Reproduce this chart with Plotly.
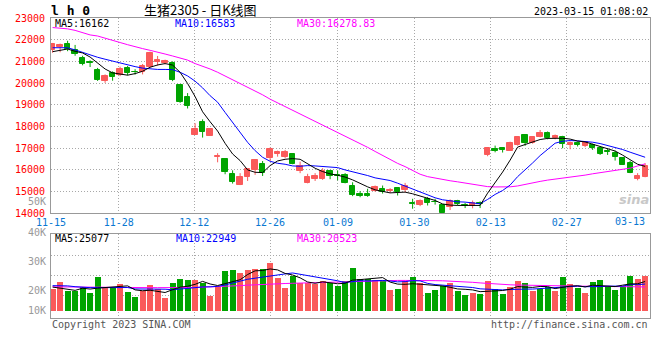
import plotly.graph_objects as go

# ---------------- data ----------------
dates = ["11-15", "11-16", "11-17", "11-18", "11-21", "11-22", "11-23", "11-24", "11-25",
         "11-28", "11-29", "11-30", "12-01", "12-02", "12-05", "12-06", "12-07", "12-08", "12-09",
         "12-12", "12-13", "12-14", "12-15", "12-16", "12-19", "12-20", "12-21", "12-22", "12-23",
         "12-26", "12-27", "12-28", "12-29", "12-30", "01-03", "01-04", "01-05", "01-06",
         "01-09", "01-10", "01-11", "01-12", "01-13", "01-16", "01-17", "01-18", "01-19", "01-20",
         "01-30", "01-31", "02-01", "02-02", "02-03", "02-06", "02-07", "02-08", "02-09", "02-10",
         "02-13", "02-14", "02-15", "02-16", "02-17", "02-20", "02-21", "02-22", "02-23", "02-24",
         "02-27", "02-28", "03-01", "03-02", "03-03", "03-06", "03-07", "03-08", "03-09", "03-10",
         "03-13", "03-14"]

open_ = [21540, 21660, 21800, 21530, 21150, 20950, 20600, 20080, 20460, 20390,
         20690, 20510, 20490, 20760, 20970, 20920, 20930, 19920, 19350, 17630,
         18220, 17580, 16590, 16500, 15810, 15310, 15690, 16000, 16270, 16570,
         16750, 16610, 16720, 15950, 15390, 15570, 15570, 15950, 15760, 15770,
         15250, 14870, 14880, 15040, 15140, 15040, 15170, 15080, 14460, 14380,
         14640, 14520, 14380, 14300, 14580, 14370, 14330, 14460, 16670, 16980,
         16990, 16890, 17170, 17610, 17250, 17510, 17720, 17460, 17520, 17140,
         17230, 17110, 17150, 17030, 16860, 16770, 16540, 16310, 15590, 15670]
high = [21850, 21820, 21950, 21760, 21260, 21050, 20700, 20400, 20540, 20760,
        20790, 20640, 20880, 21450, 21250, 21080, 21000, 19960, 19540, 18150,
        18330, 17900, 16770, 16540, 15980, 15850, 16080, 16490, 16410, 17030,
        16890, 16920, 16770, 16380, 15820, 15850, 16080, 16000, 15980, 15850,
        15430, 15020, 15130, 15280, 15280, 15160, 15200, 15400, 14670, 14640,
        14750, 14670, 14410, 14640, 14620, 14480, 14590, 14550, 17040, 17120,
        17030, 17300, 17540, 17640, 17540, 17840, 17770, 17630, 17570, 17310,
        17310, 17300, 17210, 17090, 17000, 16890, 16560, 16420, 15850, 16310]
low = [21400, 21420, 21470, 21260, 20820, 20740, 20100, 20010, 20110, 20320,
       20360, 20390, 20400, 20720, 20800, 20860, 20090, 19090, 18830, 17620,
       17490, 17570, 16350, 15800, 15370, 15300, 15490, 15770, 15720, 16410,
       16610, 16540, 16260, 15850, 15380, 15490, 15540, 15570, 15520, 15380,
       14790, 14740, 14760, 15000, 14910, 14940, 14820, 14970, 14210, 14330,
       14360, 14400, 14000, 14150, 14360, 14240, 14230, 14240, 16630, 16810,
       16800, 16880, 17120, 17110, 17210, 17500, 17410, 17410, 17000, 16950,
       17080, 17050, 16920, 16690, 16690, 16430, 16230, 15850, 15520, 15660]
close = [21810, 21760, 21570, 21350, 20890, 20930, 20140, 20320, 20300, 20650,
         20450, 20490, 20800, 21410, 21070, 21030, 20150, 19150, 18960, 17880,
         17740, 17880, 16630, 15890, 15460, 15690, 16030, 16440, 15880, 16950,
         16840, 16810, 16290, 16200, 15650, 15740, 15970, 15740, 15730, 15390,
         14840, 14780, 14800, 15190, 14980, 15060, 14980, 15280, 14440, 14590,
         14490, 14500, 14030, 14560, 14440, 14350, 14480, 14440, 16990, 16860,
         16930, 17240, 17520, 17260, 17520, 17720, 17460, 17580, 17200, 17260,
         17170, 17270, 17000, 16720, 16840, 16590, 16240, 15880, 15700, 16200]

ma5 = [21449, 21525, 21571, 21464, 21390, 21200, 20910, 20650, 20470, 20420,
       20365, 20438, 20546, 20730, 20836, 20900, 20830, 20500, 19980, 19380,
       18678, 18219, 17790, 17224, 16734, 16428, 16000, 15890, 15877, 16198,
       16413, 16489, 16520, 16489, 16275, 16076, 15923, 15816, 15754, 15670,
       15541, 15373, 15220, 15082, 15006, 14940, 14960, 14975, 14898, 14807,
       14700, 14592, 14430, 14378, 14363, 14363, 14340, 14363, 14930, 15410,
       15900, 16450, 17050, 17170, 17290, 17400, 17450, 17470, 17460, 17420,
       17330, 17290, 17180, 17080, 16990, 16870, 16680, 16460, 16260, 16162]
ma10 = [21630, 21630, 21630, 21530, 21410, 21290, 21190, 21100, 21010, 20920,
        20840, 20760, 20690, 20650, 20630, 20630, 20620, 20500, 20330, 20090,
        19780, 19420, 19120, 18648, 18189, 17729, 17270, 16887, 16581, 16397,
        16305, 16260, 16183, 16168, 16198, 16183, 16153, 16137, 16106, 15999,
        15923, 15832, 15740, 15633, 15556, 15510, 15388, 15250, 15097, 14960,
        14822, 14715, 14623, 14562, 14531, 14516, 14485, 14440, 14640, 14870,
        15050, 15300, 15690, 15990, 16320, 16660, 16940, 17230, 17320, 17352,
        17337, 17322, 17276, 17214, 17122, 17046, 16939, 16816, 16709, 16583]
ma30 = [22560, 22530, 22500, 22430, 22320, 22220, 22170, 22060, 21960, 21870,
        21770, 21670, 21590, 21510, 21410, 21340, 21250, 21150, 21060, 20900,
        20780, 20650, 20500, 20330, 20160, 19990, 19820, 19640, 19460, 19260,
        19090, 18920, 18760, 18600, 18430, 18260, 18080, 17900, 17720, 17550,
        17400, 17220, 17040, 16850, 16660, 16460, 16300, 16150, 15970, 15800,
        15690, 15620, 15560, 15500, 15450, 15400, 15340, 15280, 15230, 15215,
        15215, 15220, 15260, 15340, 15410, 15470, 15530, 15570, 15620, 15660,
        15700, 15760, 15820, 15870, 15920, 15970, 16020, 16080, 16180, 16279]

volume = [18740, 24420, 16760, 16760, 20160, 15050, 28680, 19880, 19880, 22720,
          15900, 11640, 16470, 21870, 18180, 10790, 23570, 26980, 25840, 26130,
          23570, 12500, 20450, 33800, 34650, 31810, 34650, 35780, 35220, 40900,
          28120, 19310, 29250, 23290, 23570, 22720, 24990, 23860, 21020, 25280,
          36350, 26980, 26980, 25840, 25840, 17610, 18460, 25560, 28680, 23570,
          15050, 17610, 21300, 23290, 16760, 13350, 15050, 14200, 25280, 18740,
          14200, 20450, 25280, 23570, 17040, 18180, 19880, 16760, 28400, 22720,
          19600, 15050, 24420, 26130, 20730, 17610, 21020, 29540, 26980, 29540]
vol_up = [1, 1, 0, 0, 0, 0, 0, 1, 0, 1,
          0, 0, 1, 1, 1, 1, 0, 0, 0, 1,
          0, 1, 1, 0, 0, 1, 1, 1, 0, 1,
          1, 1, 0, 1, 1, 1, 1, 0, 0, 0,
          0, 0, 0, 1, 0, 1, 0, 1, 0, 1,
          0, 0, 0, 1, 0, 0, 1, 0, 1, 0,
          0, 1, 1, 0, 1, 0, 0, 1, 0, 1,
          0, 1, 0, 0, 0, 0, 0, 0, 1, 1]
vol_ma5 = [20400, 19300, 18200, 17600, 19400, 18700, 19500, 20100, 20800, 21300,
           21400, 18000, 17300, 17700, 16800, 15800, 18200, 20300, 21100, 22700,
           25200, 23000, 21700, 23300, 25000, 26600, 31000, 34100, 34400, 35700,
           34900, 31900, 30600, 28200, 24700, 23600, 24800, 23700, 23200, 23600,
           26300, 26700, 27300, 28300, 28400, 24600, 22900, 22700, 23200, 22800,
           22300, 22100, 21300, 20200, 18800, 18500, 18000, 16500, 16900, 17300,
           17500, 18600, 20800, 20400, 20100, 20900, 20800, 19100, 20100, 21200,
           21500, 20500, 22000, 21600, 21200, 20800, 22000, 23000, 23200, 25077]
vol_ma10 = [21600, 21600, 21400, 20700, 20200, 19900, 19900, 20000, 20100, 20300,
            20000, 18800, 18700, 19200, 19000, 18600, 18100, 18800, 19400, 19700,
            20500, 20600, 21000, 22200, 23800, 25900, 27000, 27900, 28800, 30300,
            30800, 31500, 32300, 31300, 30200, 29300, 28300, 27100, 25700, 24200,
            25000, 25800, 25500, 25800, 26000, 25500, 24800, 25000, 25800, 25600,
            23500, 22500, 22000, 21700, 20800, 20400, 20000, 18900, 18600, 18100,
            18000, 18300, 18700, 18700, 18700, 19200, 19700, 19900, 20300, 20700,
            21200, 20700, 20600, 20800, 21200, 21100, 21200, 22500, 22400, 22949]
vol_ma30 = [20600, 20500, 20400, 20400, 20300, 20300, 20300, 20200, 20200, 20200,
            20100, 20000, 20000, 19900, 19900, 19800, 19900, 20000, 20000, 20100,
            20300, 20300, 20400, 20800, 21200, 21600, 22000, 22400, 22700, 23000,
            23300, 23400, 23600, 23800, 24000, 24100, 24200, 24300, 24400, 24500,
            25000, 25300, 25600, 25800, 26000, 26100, 26000, 26000, 26100, 26000,
            25900, 25800, 25700, 25500, 25300, 24900, 24400, 23900, 23400, 22800,
            22500, 22300, 22100, 21900, 21800, 21700, 21600, 21400, 21400, 21300,
            21200, 21100, 21000, 20900, 20600, 20500, 20500, 20500, 20500, 20523]

tick_dates = ["11-15", "11-28", "12-12", "12-26", "01-09", "01-30", "02-13", "02-27", "03-13"]
price_ticks = [14000, 15000, 16000, 17000, 18000, 19000, 20000, 21000, 22000, 23000]
vol_tick_text = ["50K", "40K", "30K", "20K", "10K"]
symbol = "l h 0"
title = "生猪2305 - 日K线图"
stamp = "2023-03-15 01:08:02"
price_ma_labels = ["MA5:16162", "MA10:16583", "MA30:16278.83"]
vol_ma_labels = ["MA5:25077", "MA10:22949", "MA30:20523"]
copyright_text = "Copyright 2023 SINA.COM"
url_text = "http://finance.sina.com.cn"

# ---------------- styling / layout geometry ----------------
W, H = 660, 360
def px(x): return x / W
def py(y): return 1 - y / H

RED = "#fa5a5a"
GREEN = "#00a400"
GRID = "#a8a8a8"
BORDER = "#999999"
MONO = "DejaVu Sans Mono"
X0, X1 = 51, 650
P_TOP, P_BOT = 18, 213.3
V_TOP, V_BOT = 234.3, 318.3
XRANGE = [-0.213, 79.65]
GRID_SHIFT = [-0.213, -0.19, -0.11, -0.01, 0.05, 0.23, 0.41, 0.55]   # pixel-drift of grid vs candles
LAST_LABEL_SHIFT = -1.07
VRANGE = [-6000, 64980]
VGRID = [13440, 30340, 47240]
DOT = "1px,2px"

idx = list(range(len(dates)))
tick_idx = [dates.index(d) for d in tick_dates]
grid_pos = [tick_idx[k] + GRID_SHIFT[k] for k in range(8)]

fig = go.Figure()

# candle wicks
for up, col in ((True, RED), (False, GREEN)):
    wx, wy = [], []
    for i in idx:
        if (close[i] >= open_[i]) == up:
            wx += [i, i, None]
            wy += [low[i], high[i], None]
    fig.add_trace(go.Scatter(x=wx, y=wy, mode="lines", line=dict(color=col, width=1),
                             hoverinfo="skip", showlegend=False, xaxis="x", yaxis="y"))

# candle bodies
ccol = [RED if close[i] >= open_[i] else GREEN for i in idx]
fig.add_trace(go.Bar(x=idx, y=[abs(close[i] - open_[i]) for i in idx],
                     base=[min(close[i], open_[i]) for i in idx],
                     width=0.7, marker=dict(color=ccol, line=dict(color=ccol, width=1)),
                     showlegend=False, xaxis="x", yaxis="y"))

# price moving averages
for arr, col in ((ma30, "#ff00ff"), (ma10, "#0000ff"), (ma5, "#000000")):
    fig.add_trace(go.Scatter(x=idx, y=arr, mode="lines", line=dict(color=col, width=1),
                             showlegend=False, xaxis="x", yaxis="y"))

# volume bars
vcol = [RED if u else GREEN for u in vol_up]
fig.add_trace(go.Bar(x=idx, y=volume, width=0.8, marker=dict(color=vcol, line=dict(width=0)),
                     showlegend=False, xaxis="x2", yaxis="y2"))
for arr, col in ((vol_ma30, "#ff00ff"), (vol_ma10, "#0000ff"), (vol_ma5, "#000000")):
    fig.add_trace(go.Scatter(x=idx, y=arr, mode="lines", line=dict(color=col, width=1),
                             showlegend=False, xaxis="x2", yaxis="y2"))

axis_common = dict(showline=True, linecolor=BORDER, linewidth=1, mirror=True,
                   showgrid=True, gridcolor=GRID, gridwidth=1, griddash=DOT,
                   zeroline=False, ticks="", automargin=False, fixedrange=True)

fig.update_layout(
    width=W, height=H, margin=dict(l=0, r=0, t=0, b=0),
    paper_bgcolor="white", plot_bgcolor="white",
    barmode="overlay", bargap=0, showlegend=False,
    xaxis=dict(domain=[px(X0), px(X1)], range=XRANGE, anchor="y",
               tickmode="array", tickvals=grid_pos, ticktext=tick_dates[:8],
               tickfont=dict(family=MONO, size=10, color="#0a78d2"), **axis_common),
    yaxis=dict(domain=[py(P_BOT), py(P_TOP)], range=[price_ticks[0], price_ticks[-1]], anchor="x",
               tickmode="array", tickvals=price_ticks, ticktext=[str(v) for v in price_ticks],
               tickfont=dict(family=MONO, size=10, color="#ff0000"), ticklabelstandoff=3,
               **axis_common),
    xaxis2=dict(domain=[px(X0), px(X1)], range=XRANGE, anchor="y2",
                tickmode="array", tickvals=grid_pos, showticklabels=False, **axis_common),
    yaxis2=dict(domain=[py(V_BOT), py(V_TOP)], range=VRANGE, anchor="x2",
                tickmode="array", tickvals=VGRID, showticklabels=False, **axis_common),
)

ann = []
def text(x, y, s, color="#000000", size=10, xanchor="left", family=MONO, bold=False, italic=False):
    if bold:
        s = "<b>" + s + "</b>"
    if italic:
        s = "<i>" + s + "</i>"
    ann.append(dict(x=px(x), y=py(y), xref="paper", yref="paper", text=s, showarrow=False,
                    xanchor=xanchor, yanchor="middle",
                    font=dict(family=family, size=size, color=color)))

text(49, 10, symbol, size=13, bold=True)
text(200, 9.5, title, size=13, xanchor="center", family="Noto Sans CJK SC")
text(650, 11.5, stamp, xanchor="right")
text(53, 24, price_ma_labels[0], "#000000")
text(173, 24, price_ma_labels[1], "#0000ff")
text(295, 24, price_ma_labels[2], "#ff00ff")
text(53, 238.5, vol_ma_labels[0], "#000000")
text(174, 238.5, vol_ma_labels[1], "#0000ff")
text(295, 238.5, vol_ma_labels[2], "#ff00ff")
for lab, yy in zip(vol_tick_text, [201.5, 232.5, 261, 290.7, 310]):
    text(47.5, yy, lab, "#999999", xanchor="right")
text(50, 324, copyright_text, "#555555")
text(650, 324, url_text, "#555555", xanchor="right")
text(651, 199, "sina", "#c8c8c8", size=13, xanchor="right", family="DejaVu Sans", bold=True, italic=True)
# last date label (no grid line under it in the reference)
ann.append(dict(x=tick_idx[8] + LAST_LABEL_SHIFT, y=py(221.5), xref="x", yref="paper",
                text=tick_dates[8], showarrow=False, xanchor="center", yanchor="middle",
                font=dict(family=MONO, size=10, color="#0a78d2")))
fig.update_layout(annotations=ann)

fig.write_html("out.html", config={"displayModeBar": False},
               post_script="document.body.style.margin='0';document.body.style.overflow='hidden';")
